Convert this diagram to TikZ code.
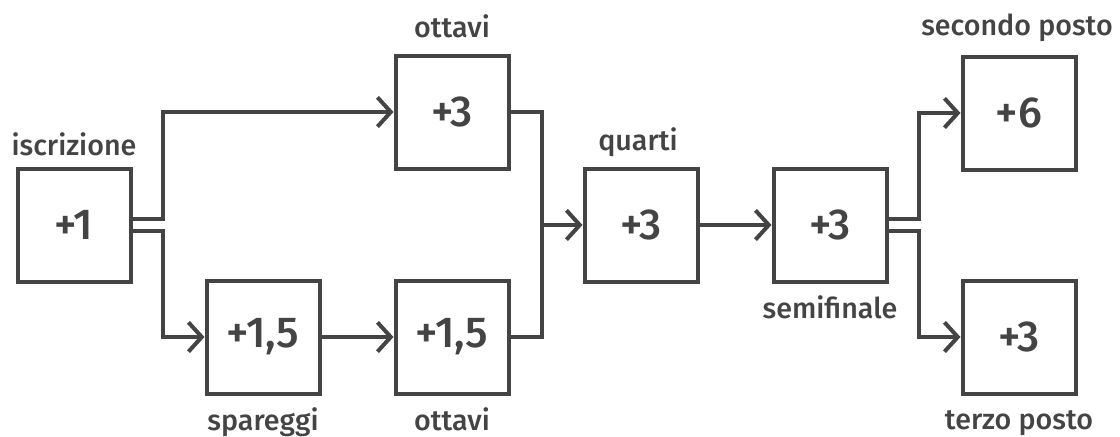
\documentclass[tikz,border=0pt]{standalone}
\usepackage{fontspec}
\setmainfont{Liberation Sans}
\newfontfamily\medfont{Fira Sans}[UprightFont={* Medium}]
\usetikzlibrary{arrows.meta}
\definecolor{ink}{HTML}{444444}

\begin{document}
\begin{tikzpicture}[x=0.75pt, y=-0.75pt, >={Straight Barb[length=10pt,width=22pt]},
    box/.style={draw=ink, line width=3pt, minimum size=84.75pt, inner sep=0pt, text=ink, font=\medfont\fontsize{32.5}{38}\selectfont},
    lbl/.style={text=ink, anchor=base, inner sep=0pt, font=\medfont\fontsize{21.5}{26}\selectfont},
    wire/.style={draw=ink, line width=3pt}]
    \useasboundingbox (0,0) rectangle (1120,436);

    % Boxes
    \node[box] (isc) at (74,225) {+1};
    \node[box] (ott1) at (452,112) {+3};
    \node[box] (spa) at (263,337) {+1,5};
    \node[box] (ott2) at (452,337) {+1,5};
    \node[box] (quar) at (641,225) {+3};
    \node[box] (semi) at (830,225) {+3};
    \node[box] (sec) at (1019,113) {+6};
    \node[box] (ter) at (1019,337) {+3};

    % Labels
    \node[lbl] (iscL) at (74,155) {iscrizione};
    \node[lbl] (ott1L) at (452,37) {ottavi};
    \node[lbl] (spaL) at (263,430) {spareggi};
    \node[lbl] (ott2L) at (452,430) {ottavi};
    \node[lbl] (quarL) at (638,150) {quarti};
    \node[lbl] (semiL) at (830,318) {semifinale};
    \node[lbl] (secL) at (1017,35) {secondo posto};
    \node[lbl] (terL) at (1019,429) {terzo posto};

    % Joins
    \coordinate (jq) at (542,225);

    % Arrows
    \draw[wire,->] ([yshift=4.5pt]isc.east) -- ++(30,0) |- (ott1.west);
    \draw[wire,->] ([yshift=-4.5pt]isc.east) -- ++(30,0) |- (spa.west);
    \draw[wire,->] (spa) -- (ott2);
    \draw[wire] (ott2.east) -| (jq);
    \draw[wire,->] (ott1.east) -| (jq) -- (quar.west);
    \draw[wire,->] (quar) -- (semi);
    \draw[wire,->] ([yshift=4.2pt]semi.east) -- ++(30,0) |- (sec.west);
    \draw[wire,->] ([yshift=-4.2pt]semi.east) -- ++(30,0) |- (ter.west);
\end{tikzpicture}
\end{document}
